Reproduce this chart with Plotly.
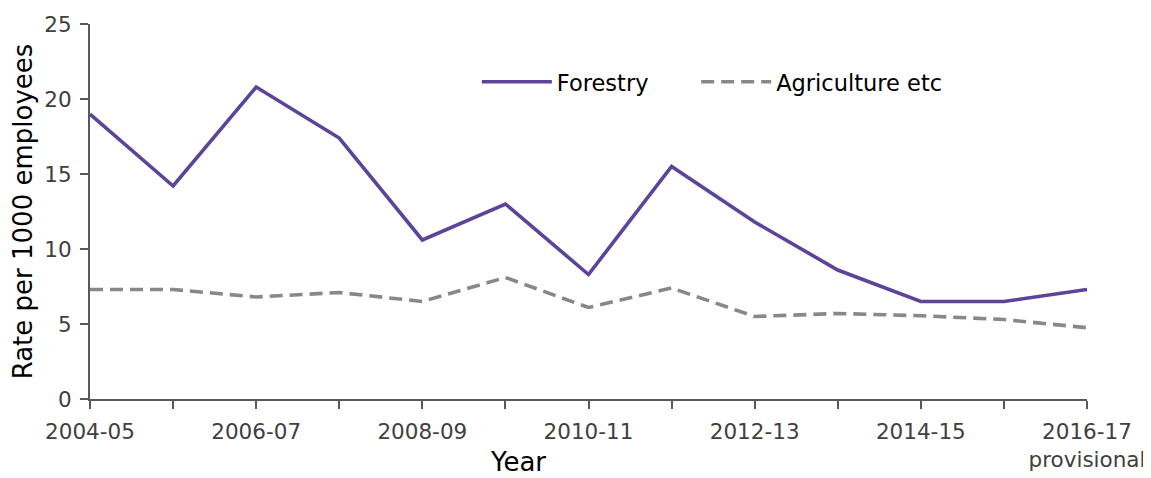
import plotly.graph_objects as go

years = ["2004-05", "2005-06", "2006-07", "2007-08", "2008-09", "2009-10", "2010-11",
         "2011-12", "2012-13", "2013-14", "2014-15", "2015-16", "2016-17"]
tick_labels = ["2004-05", "", "2006-07", "", "2008-09", "", "2010-11",
               "", "2012-13", "", "2014-15", "", "2016-17<br>provisional"]
forestry = [19.0, 14.2, 20.8, 17.4, 10.6, 13.0, 8.3, 15.5, 11.8, 8.6, 6.5, 6.5, 7.3]
agriculture = [7.3, 7.3, 6.8, 7.1, 6.5, 8.1, 6.1, 7.4, 5.5, 5.7, 5.55, 5.3, 4.75]

FONT = "DejaVu Sans, Verdana, sans-serif"

fig = go.Figure()
fig.add_trace(go.Scatter(x=years, y=forestry, mode="lines", name="Forestry",
                         line=dict(color="#5B449A", width=3.6), legend="legend"))
fig.add_trace(go.Scatter(x=years, y=agriculture, mode="lines", name="Agriculture etc",
                         line=dict(color="#888888", width=3.6, dash="13px,7px"),
                         legend="legend2"))

legend_common = dict(orientation="h", y=0.845, xanchor="left", yanchor="middle",
                     font=dict(size=22.5, color="#000000"), itemwidth=70,
                     bgcolor="rgba(0,0,0,0)")

fig.update_layout(
    width=1143, height=470,
    margin=dict(l=82, r=64, t=16, b=79, autoexpand=False),
    plot_bgcolor="white", paper_bgcolor="white",
    font=dict(family=FONT, size=21, color="#404040"),
    showlegend=True,
    legend=dict(x=0.388, **legend_common),
    legend2=dict(x=0.608, **legend_common),
    xaxis=dict(type="category", range=[0, 12], tickmode="array", tickvals=years,
               ticktext=tick_labels, showline=True, linecolor="#595959", linewidth=2,
               ticks="outside", ticklen=8, tickcolor="#595959", tickwidth=1.5,
               ticklabelstandoff=4, automargin=False,
               showgrid=False, zeroline=False, tickfont=dict(size=21.5, color="#404040")),
    yaxis=dict(range=[0, 25], tickvals=[0, 5, 10, 15, 20, 25], showline=True,
               linecolor="#595959", linewidth=2, ticks="outside", ticklen=8,
               tickcolor="#595959", tickwidth=1.5, showgrid=False, zeroline=False,
               ticklabelstandoff=4, automargin=False,
               tickfont=dict(size=21.5, color="#404040"),
               title=dict(text="Rate per 1000 employees", font=dict(size=26, color="#000000"),
                          standoff=10)),
    annotations=[dict(text="Year", x=0.429, y=-0.168, xref="paper", yref="paper",
                      xanchor="center", yanchor="middle", showarrow=False,
                      font=dict(size=26, color="#000000"))],
)

fig.write_html("out.html")
